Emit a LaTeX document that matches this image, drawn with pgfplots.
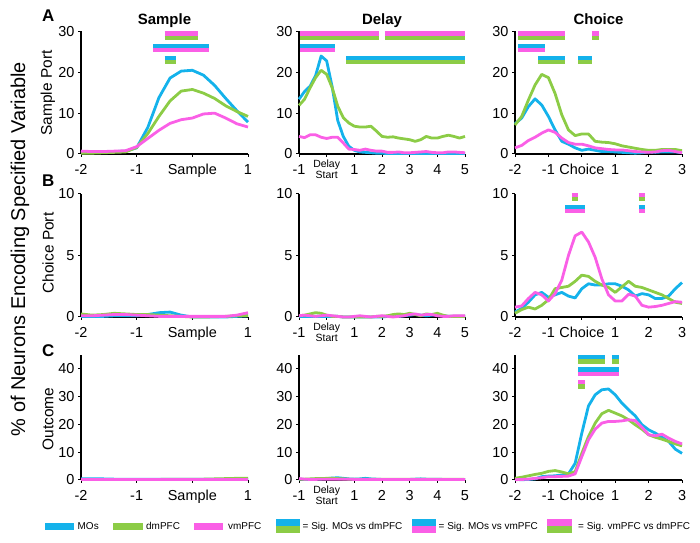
\documentclass[border=0pt]{standalone}
\usepackage{fontspec}
\setmainfont{Liberation Sans}
\usepackage{pgfplots}
\usepackage{pgfplotstable}
\pgfplotsset{compat=1.18}

\definecolor{cblue}{RGB}{20,178,235}
\definecolor{cgreen}{RGB}{140,204,70}
\definecolor{cmag}{RGB}{250,95,230}

\pgfplotstableread{
x b g m
-2 0.3 0.2 0.7
-1.8 0.4 0.2 0.6
-1.6 0.5 0.3 0.6
-1.4 0.6 0.4 0.7
-1.2 0.7 0.5 0.8
-1 1.5 1.6 1.8
-0.8 6.5 5.0 3.8
-0.6 13.8 9.2 5.8
-0.4 18.6 13.0 7.5
-0.2 20.3 15.4 8.4
0 20.5 15.8 8.8
0.2 19.3 14.9 9.8
0.4 16.8 13.6 10.0
0.6 13.6 11.8 8.8
0.8 10.6 10.4 7.4
1 7.8 9.2 6.6
}\tSA
\pgfplotstableread{
x b g m
-2 0.05 0.25 0.1
-1.8 0.05 0.15 0.1
-1.6 0.05 0.2 0.15
-1.4 0.1 0.3 0.2
-1.2 0.1 0.25 0.2
-1 0.1 0.2 0.15
-0.8 0.2 0.2 0.1
-0.6 0.35 0.15 0.05
-0.4 0.4 0.1 0.05
-0.2 0.15 0.05 0.05
0 0 0 0.05
0.2 0 0 0.05
0.4 0 0.02 0.05
0.6 0 0.05 0.05
0.8 0.05 0.1 0.15
1 0.1 0.1 0.35
}\tSB
\pgfplotstableread{
x b g m
-2 0.4 0.2 0.2
-1.8 0.4 0.2 0.2
-1.6 0.4 0.2 0.2
-1.4 0.3 0.2 0.2
-1.2 0.3 0.2 0.2
-1 0.3 0.2 0.2
-0.8 0.3 0.2 0.2
-0.6 0.3 0.2 0.2
-0.4 0.3 0.3 0.2
-0.2 0.3 0.3 0.2
0 0.3 0.3 0.2
0.2 0.3 0.3 0.2
0.4 0.3 0.4 0.2
0.6 0.3 0.5 0.2
0.8 0.3 0.6 0.2
1 0.3 0.6 0.2
}\tSC
\pgfplotstableread{
x b g m
-1 13.4 11.9 4.3
-0.8 15.3 13.4 4.0
-0.6 16.6 16.2 4.7
-0.4 19.2 18.7 4.7
-0.2 24.0 20.5 4.1
0 22.8 19.5 3.8
0.2 16.4 16.2 4.1
0.4 8.2 11.7 4.1
0.6 4.3 8.9 2.7
0.8 1.9 7.6 1.2
1 0.9 6.8 1.1
1.2 0.5 6.6 0.9
1.4 0.4 6.6 1.2
1.6 0.3 6.8 0.9
1.8 0.2 5.6 0.7
2 0.2 4.3 0.7
2.2 0.1 4.1 0.4
2.4 0.1 4.2 0.4
2.6 0.1 3.9 0.5
2.8 0.1 3.7 0.3
3 0.1 3.5 0.3
3.2 0.1 3.1 0.4
3.4 0.1 3.5 0.5
3.6 0.1 4.3 0.6
3.8 0.1 3.9 0.4
4 0.1 3.9 0.3
4.2 0.1 4.3 0.3
4.4 0.1 4.6 0.5
4.6 0.1 4.3 0.5
4.8 0.1 3.9 0.4
5 0.1 4.3 0.3
}\tDA
\pgfplotstableread{
x b g m
-1 0.05 0.1 0.1
-0.8 0.05 0.15 0.15
-0.6 0.05 0.25 0.1
-0.4 0.05 0.35 0.05
-0.2 0.05 0.3 0.1
0 0.05 0.15 0.15
0.2 0.05 0.05 0.1
0.4 0.05 0.05 0.05
0.6 0 0 0
0.8 0 0 0
1 0 0 0.05
1.2 0 0 0.1
1.4 0 0 0.05
1.6 0 0 0
1.8 0 0.05 0.05
2 0 0.05 0.1
2.2 0.05 0.1 0.05
2.4 0.05 0.2 0
2.6 0.05 0.25 0.05
2.8 0.1 0.2 0.1
3 0.15 0.3 0.2
3.2 0.2 0.2 0.25
3.4 0.15 0.1 0.15
3.6 0.1 0.25 0.2
3.8 0.15 0.2 0.2
4 0.2 0.3 0.1
4.2 0.1 0.15 0.05
4.4 0.05 0.05 0.05
4.6 0.05 0.05 0.1
4.8 0.05 0.05 0.1
5 0.05 0.05 0.1
}\tDB
\pgfplotstableread{
x b g m
-1 0.3 0.3 0.5
-0.8 0.2 0.3 0.3
-0.6 0.2 0.4 0.2
-0.4 0.3 0.5 0.2
-0.2 0.4 0.5 0.3
0 0.5 0.6 0.3
0.2 0.7 0.6 0.3
0.4 0.8 0.5 0.3
0.6 0.6 0.4 0.3
0.8 0.4 0.3 0.3
1 0.3 0.3 0.2
1.2 0.4 0.3 0.2
1.4 0.6 0.3 0.2
1.6 0.4 0.3 0.2
1.8 0.3 0.3 0.2
2 0.2 0.3 0.2
2.2 0.2 0.3 0.2
2.4 0.2 0.3 0.2
2.6 0.2 0.3 0.2
2.8 0.2 0.3 0.2
3 0.2 0.3 0.2
3.2 0.3 0.3 0.2
3.4 0.4 0.3 0.2
3.6 0.3 0.3 0.2
3.8 0.3 0.3 0.2
4 0.3 0.3 0.2
4.2 0.2 0.3 0.2
4.4 0.2 0.3 0.2
4.6 0.2 0.3 0.2
4.8 0.2 0.3 0.2
5 0.2 0.2 0.2
}\tDC
\pgfplotstableread{
x b g m
-2 7.4 7.1 1.5
-1.8 8.8 9.2 2.1
-1.6 11.6 13.2 3.3
-1.4 13.5 16.9 4.1
-1.2 12.0 19.5 5.1
-1 9.2 18.7 5.9
-0.8 5.9 14.8 5.3
-0.6 3.1 9.6 3.9
-0.4 2.4 5.9 2.8
-0.2 1.5 4.5 2.4
0 0.9 4.9 2.4
0.2 1.2 4.9 2.0
0.4 0.9 3.1 1.5
0.6 0.6 2.9 1.3
0.8 0.6 2.8 1.1
1 0.5 2.5 1.0
1.2 0.4 2.0 1.0
1.4 0.3 1.7 0.8
1.6 0.2 1.4 0.6
1.8 0.3 1.1 0.5
2 0.5 0.9 0.4
2.2 0.4 0.9 0.5
2.4 0.5 1.1 0.8
2.6 0.5 1.1 0.9
2.8 0.5 1.1 0.6
3 0.3 0.8 0.3
}\tCA
\pgfplotstableread{
x b g m
-2 0.4 0.3 0.8
-1.8 0.7 0.6 0.9
-1.6 1.2 0.8 1.5
-1.4 1.8 0.65 2.0
-1.2 2.0 0.95 1.8
-1 1.6 1.4 1.3
-0.8 1.8 2.3 1.9
-0.6 2.0 2.4 3.0
-0.4 1.7 2.5 5.0
-0.2 1.55 2.9 6.6
0 2.3 3.4 6.9
0.2 2.7 3.3 6.1
0.4 2.6 2.9 4.85
0.6 2.6 2.6 3.1
0.8 2.7 2.4 1.8
1 2.7 2.0 1.3
1.2 2.5 2.45 1.3
1.4 2.2 2.9 1.85
1.6 1.7 2.5 1.7
1.8 1.9 2.4 0.95
2 1.8 2.2 0.8
2.2 1.5 2.0 0.85
2.4 1.5 1.8 0.95
2.6 1.7 1.5 1.1
2.8 2.3 1.2 1.25
3 2.8 1.1 1.2
}\tCB
\pgfplotstableread{
x b g m
-2 0.2 0.6 0.1
-1.8 0.1 1.0 0.2
-1.6 0.2 1.5 0.3
-1.4 0.4 2.0 0.6
-1.2 1.2 2.4 0.8
-1 1.4 3.1 1.2
-0.8 1.5 3.4 1.2
-0.6 1.8 2.9 1.3
-0.4 2.2 2.2 1.4
-0.2 6.0 3.0 2.2
0 16.9 9.6 8.4
0.2 26.7 15.7 14.5
0.4 30.7 20.5 18.3
0.6 32.5 23.9 20.5
0.8 32.8 25.1 21.1
1 30.7 24.1 21.1
1.2 27.7 23.1 21.3
1.4 25.3 21.7 21.7
1.6 23.1 19.9 21.4
1.8 19.9 18.3 19.0
2 18.1 16.3 16.3
2.2 16.9 15.4 15.9
2.4 15.4 14.7 16.5
2.6 13.9 13.9 15.1
2.8 11.1 13.0 13.9
3 9.6 12.3 13.0
}\tCC

\pgfplotsset{
  panel/.style={
    scale only axis,
    axis lines=left,
    axis line style={-, line width=1.8bp, black},
    clip=false,
    tick align=outside,
    major tick length=3bp,
    tick style={line width=1bp, black},
    /pgf/number format/assume math mode=true,
    tick label style={font=\fontsize{14.5}{16}\selectfont},
    xticklabel style={yshift=-4bp},
    ymin=0,
  },
  cb/.style={draw=cblue, line width=2.8bp, line join=round},
  cg/.style={draw=cgreen, line width=2.8bp, line join=round},
  cm/.style={draw=cmag, line width=2.8bp, line join=round},
}

\newcommand{\sig}[6]{%
  \addplot[draw=#1, line width=4.1bp] coordinates {(#3,#5) (#4,#5)};
  \addplot[draw=#2, line width=4.1bp] coordinates {(#3,#6) (#4,#6)};
}
\newcommand{\curves}[1]{%
  \addplot[cb] table[x=x,y=b]{#1};
  \addplot[cg] table[x=x,y=g]{#1};
  \addplot[cm] table[x=x,y=m]{#1};
}
\newcommand{\DS}{\raisebox{0pt}[\dimexpr\height-5bp\relax]{\fontsize{10.5}{11}\selectfont\begin{tabular}{@{}c@{}}Delay\\Start\end{tabular}}}

\begin{document}
\begin{tikzpicture}[x=1bp,y=1bp]
\useasboundingbox (0,0) rectangle (700,543);

% ---------- Row A ----------
\begin{axis}[panel, at={(81bp,389bp)}, anchor=south west, width=167bp, height=122.5bp,
  xmin=-2, xmax=1, ymax=30, xtick={-2,-1,0,1}, xticklabels={-2,-1,Sample,1}, ytick={0,10,20,30}]
\curves{\tSA}
\sig{cmag}{cgreen}{-0.5}{0.1}{29.5}{28.5}
\sig{cblue}{cmag}{-0.7}{0.3}{26.5}{25.5}
\sig{cblue}{cgreen}{-0.5}{-0.3}{23.5}{22.5}
\end{axis}

\begin{axis}[panel, at={(299bp,389bp)}, anchor=south west, width=166bp, height=122.5bp,
  xmin=-1, xmax=5, ymax=30, xtick={-1,0,1,2,3,4,5}, xticklabels={-1,\DS,1,2,3,4,5}, ytick={0,10,20,30}]
\curves{\tDA}
\sig{cmag}{cgreen}{-0.95}{1.9}{29.5}{28.5}
\sig{cmag}{cgreen}{2.1}{5}{29.5}{28.5}
\sig{cblue}{cmag}{-0.95}{0.3}{26.5}{25.5}
\sig{cblue}{cgreen}{0.7}{5}{23.5}{22.5}
\end{axis}

\begin{axis}[panel, at={(515bp,389bp)}, anchor=south west, width=167bp, height=122.5bp,
  xmin=-2, xmax=3, ymax=30, xtick={-2,-1,0,1,2,3}, xticklabels={-2,-1,Choice,1,2,3}, ytick={0,10,20,30}]
\curves{\tCA}
\sig{cmag}{cgreen}{-1.9}{-0.5}{29.5}{28.5}
\sig{cmag}{cgreen}{0.3}{0.5}{29.5}{28.5}
\sig{cblue}{cmag}{-1.9}{-1.1}{26.5}{25.5}
\sig{cblue}{cgreen}{-1.3}{-0.5}{23.5}{22.5}
\sig{cblue}{cgreen}{-0.1}{0.3}{23.5}{22.5}
\end{axis}

% ---------- Row B ----------
\begin{axis}[panel, at={(81bp,226bp)}, anchor=south west, width=167bp, height=123bp,
  xmin=-2, xmax=1, ymax=10, xtick={-2,-1,0,1}, xticklabels={-2,-1,Sample,1}, ytick={0,5,10}]
\curves{\tSB}
\end{axis}

\begin{axis}[panel, at={(299bp,226bp)}, anchor=south west, width=166bp, height=123bp,
  xmin=-1, xmax=5, ymax=10, xtick={-1,0,1,2,3,4,5}, xticklabels={-1,\DS,1,2,3,4,5}, ytick={0,5,10}]
\curves{\tDB}
\end{axis}

\begin{axis}[panel, at={(515bp,226bp)}, anchor=south west, width=167bp, height=123bp,
  xmin=-2, xmax=3, ymax=10, xtick={-2,-1,0,1,2,3}, xticklabels={-2,-1,Choice,1,2,3}, ytick={0,5,10}]
\curves{\tCB}
\sig{cmag}{cgreen}{-0.3}{-0.1}{9.9}{9.57}
\sig{cmag}{cgreen}{1.7}{1.9}{9.9}{9.57}
\sig{cblue}{cmag}{-0.5}{0.1}{8.93}{8.6}
\sig{cblue}{cmag}{1.7}{1.9}{8.93}{8.6}
\end{axis}

% ---------- Row C ----------
\begin{axis}[panel, at={(81bp,63bp)}, anchor=south west, width=167bp, height=124.9bp,
  xmin=-2, xmax=1, ymax=45, xtick={-2,-1,0,1}, xticklabels={-2,-1,Sample,1}, ytick={0,10,20,30,40}]
\curves{\tSC}
\end{axis}

\begin{axis}[panel, at={(299bp,63bp)}, anchor=south west, width=166bp, height=124.9bp,
  xmin=-1, xmax=5, ymax=45, xtick={-1,0,1,2,3,4,5}, xticklabels={-1,\DS,1,2,3,4,5}, ytick={0,10,20,30,40}]
\curves{\tDC}
\end{axis}

\begin{axis}[panel, at={(515bp,63bp)}, anchor=south west, width=167bp, height=124.9bp,
  xmin=-2, xmax=3, ymax=45, xtick={-2,-1,0,1,2,3}, xticklabels={-2,-1,Choice,1,2,3}, ytick={0,10,20,30,40}]
\curves{\tCC}
\sig{cblue}{cgreen}{-0.1}{0.7}{44.2}{42.7}
\sig{cblue}{cgreen}{0.9}{1.1}{44.2}{42.7}
\sig{cblue}{cmag}{-0.1}{1.1}{39.8}{38.3}
\sig{cmag}{cgreen}{-0.1}{0.1}{35.2}{33.7}
\end{axis}

% ---------- Labels ----------
\node[rotate=90, font=\fontsize{20}{24}\selectfont] at (20,294) {\% of Neurons Encoding Specified Variable};
\node[rotate=90, font=\fontsize{15.5}{18}\selectfont] at (48,450) {Sample Port};
\node[rotate=90, font=\fontsize{15.5}{18}\selectfont] at (48,290) {Choice Port};
\node[rotate=90, font=\fontsize{15.5}{18}\selectfont] at (48,124) {Outcome};

\node[anchor=base west, inner sep=0, font=\bfseries\fontsize{17}{20}\selectfont] at (42,521) {A};
\node[anchor=base west, inner sep=0, font=\bfseries\fontsize{17}{20}\selectfont] at (42,356) {B};
\node[anchor=base west, inner sep=0, font=\bfseries\fontsize{17}{20}\selectfont] at (42,186) {C};

\node[anchor=base, inner sep=0, font=\bfseries\fontsize{15}{18}\selectfont] at (164.5,518) {Sample};
\node[anchor=base, inner sep=0, font=\bfseries\fontsize{15}{18}\selectfont] at (382,518) {Delay};
\node[anchor=base, inner sep=0, font=\bfseries\fontsize{15}{18}\selectfont] at (598.5,518) {Choice};

% ---------- Legend ----------
\begin{scope}[every node/.style={anchor=base west, inner sep=0, font=\fontsize{10}{12}\selectfont}]
\fill[cblue] (45,13) rectangle (74,20.3);
\node at (77.5,13) {MOs};
\fill[cgreen] (113,13) rectangle (143,20.3);
\node at (146,13) {dmPFC};
\fill[cmag] (194,13) rectangle (223,20.3);
\node at (228,13) {vmPFC};
\fill[cblue] (276,17) rectangle (300,24); \fill[cgreen] (276,10) rectangle (300,17);
\node at (302.5,13) {= Sig. MOs vs dmPFC};
\fill[cblue] (412,17) rectangle (436,24); \fill[cmag] (412,10) rectangle (436,17);
\node at (438.5,13) {= Sig. MOs vs vmPFC};
\fill[cmag] (547,17) rectangle (572,24); \fill[cgreen] (547,10) rectangle (572,17);
\node at (578,13) {= Sig. vmPFC vs dmPFC};
\end{scope}
\end{tikzpicture}
\end{document}
